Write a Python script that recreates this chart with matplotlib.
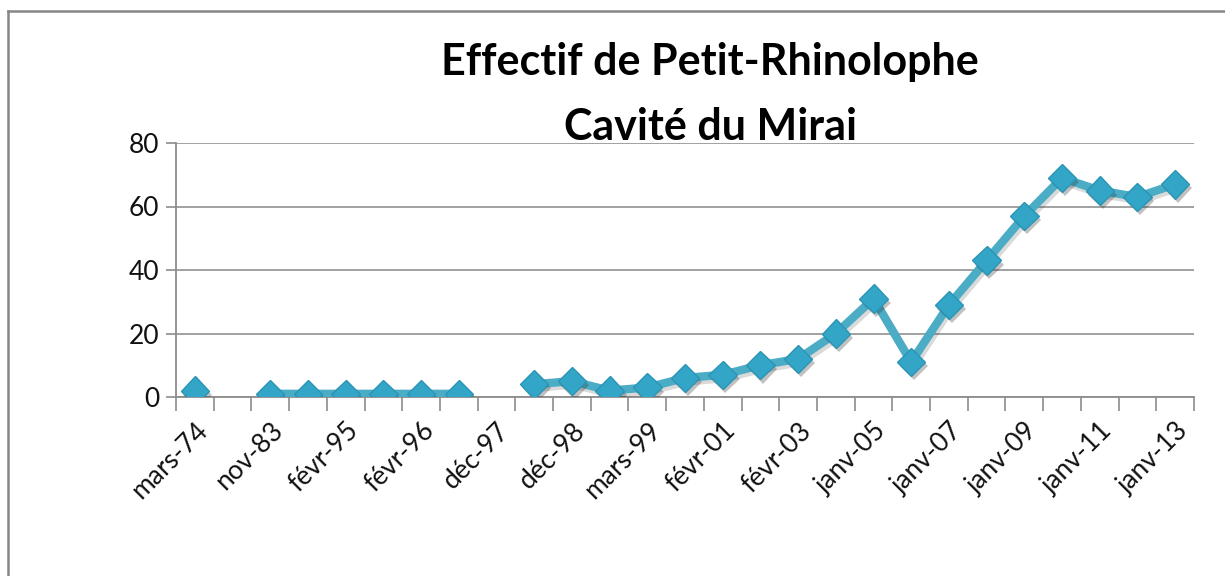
import numpy as np
import matplotlib
matplotlib.use("Agg")
import matplotlib.pyplot as plt
from matplotlib.lines import Line2D
from matplotlib.ticker import FixedLocator
from matplotlib.transforms import ScaledTranslation
import matplotlib.patheffects as pe

plt.rcParams['font.family'] = ['Lato', 'DejaVu Sans']

# ---- data ----
categories = ["mars-74", "févr-80", "nov-83", "févr-94", "févr-95", "déc-95",
              "févr-96", "févr-97", "déc-97", "févr-98", "déc-98", "janv-99",
              "mars-99", "févr-00", "févr-01", "févr-02", "févr-03", "janv-04",
              "janv-05", "janv-06", "janv-07", "janv-08", "janv-09", "janv-10",
              "janv-11", "janv-12", "janv-13"]
effectif = [2, np.nan, 1, 1, 1, 1, 1, 1, np.nan, 4, 5, 2, 3, 6, 7, 10, 12, 20,
            31, 11, 29, 43, 57, 69, 65, 63, 67]
title_line1 = "Effectif de Petit-Rhinolophe"
title_line2 = "Cavité du Mirai"
y_ticks = [0, 20, 40, 60, 80]

W, H = 1225, 576
fig = plt.figure(figsize=(W / 100, H / 100), dpi=100)
fig.patch.set_facecolor("white")

ax = fig.add_axes([176 / W, 1 - 397 / H, (1194 - 176) / W, (397 - 143) / H])
x = np.arange(len(categories))

line_color = "#4BACC6"
ax.plot(x, effectif, color=line_color, lw=6, solid_joinstyle="round",
        solid_capstyle="round", zorder=3,
        path_effects=[pe.SimpleLineShadow(offset=(1.5, -2.5), alpha=0.18, shadow_color="#333333"),
                      pe.Normal()])
ax.plot(x, effectif, linestyle="none", marker="D", markersize=14.5,
        markerfacecolor="#33A6C7", markeredgecolor="#2B94B5", markeredgewidth=1.0,
        zorder=4,
        path_effects=[pe.SimplePatchShadow(offset=(2, -3), alpha=0.3, shadow_rgbFace="#333333"),
                      pe.Normal()])

ax.set_xlim(-0.5, len(categories) - 0.5)
ax.set_ylim(0, 80)

# y axis
ax.yaxis.set_major_locator(FixedLocator(y_ticks))
ax.grid(axis="y", color="#9A9A9A", lw=1.3, zorder=0)
ax.set_axisbelow(True)
ax.tick_params(axis="y", which="major", length=7, width=1.2, color="#8C8C8C",
               labelsize=19, pad=5, labelcolor="#111111")

# x axis: labels every other category, tick marks at category boundaries
ax.set_xticks(x[::2])
ax.set_xticklabels(categories[::2], rotation=45, ha="right", va="center",
                   rotation_mode="anchor")
ax.tick_params(axis="x", which="major", length=0, labelsize=19, pad=15,
               labelcolor="#111111")
offset = ScaledTranslation(9 / 100, -9 / 100, fig.dpi_scale_trans)
for lab in ax.get_xticklabels():
    lab.set_transform(lab.get_transform() + offset)
ax.xaxis.set_minor_locator(FixedLocator(np.arange(-0.5, len(categories), 1.0)))
ax.tick_params(axis="x", which="minor", length=10, width=1.2, color="#8C8C8C")

for s in ["top", "right"]:
    ax.spines[s].set_visible(False)
for s in ["left", "bottom"]:
    ax.spines[s].set_color("#8C8C8C")
    ax.spines[s].set_linewidth(1.3)
ax.patch.set_alpha(0)

# title
fig.text(710 / W, 1 - 75 / H, title_line1, ha="center", va="baseline",
         fontsize=31, fontweight="bold", color="black")
fig.text(710 / W, 1 - 140 / H, title_line2, ha="center", va="baseline",
         fontsize=31, fontweight="bold", color="black")

# chart-area frame (top and left edges visible)
fig.add_artist(Line2D([8 / W, 1.0], [1 - 11 / H, 1 - 11 / H], transform=fig.transFigure,
                      color="#868686", lw=1.8))
fig.add_artist(Line2D([8 / W, 8 / W], [1 - 11 / H, 0.0], transform=fig.transFigure,
                      color="#868686", lw=1.8))

fig.savefig("out.png", dpi=100, facecolor="white")
